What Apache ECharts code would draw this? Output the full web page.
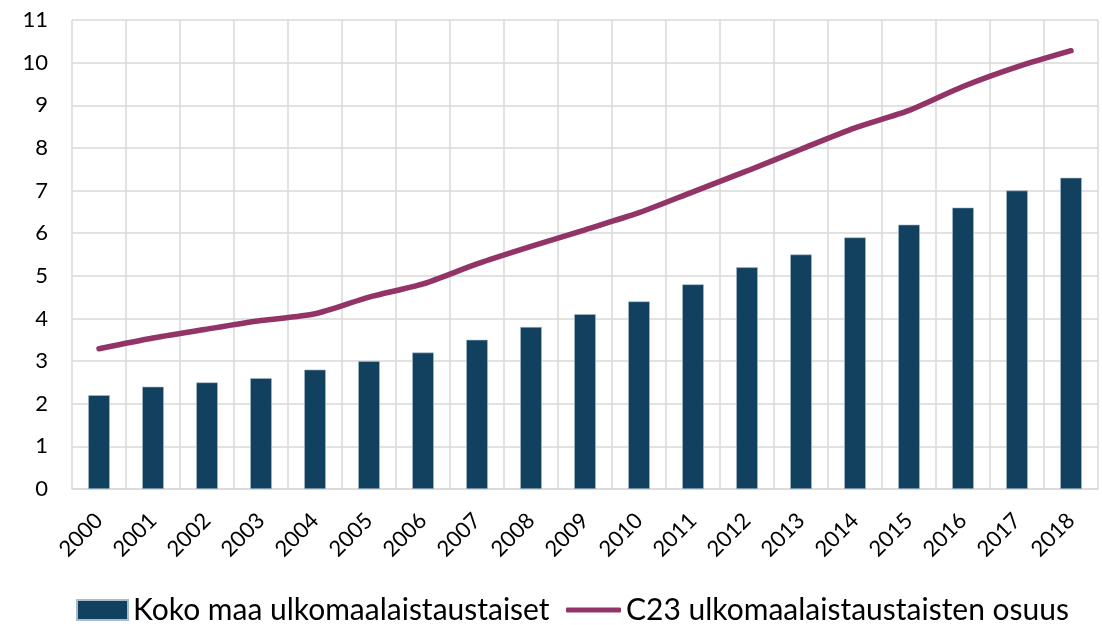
<!DOCTYPE html>
<html>
<head>
<meta charset="utf-8">
<script src="https://cdn.jsdelivr.net/npm/echarts@6/dist/echarts.min.js"></script>
<style>
  html, body { margin: 0; padding: 0; background: #fff; }
  #chart { width: 1102px; height: 625px; }
</style>
</head>
<body>
<div id="chart"></div>
<script>
// vuodet ja arvot
var years = ['2000','2001','2002','2003','2004','2005','2006','2007','2008','2009',
             '2010','2011','2012','2013','2014','2015','2016','2017','2018'];
var kokoMaa = [2.2, 2.4, 2.5, 2.6, 2.8, 3.0, 3.2, 3.5, 3.8, 4.1,
               4.4, 4.8, 5.2, 5.5, 5.9, 6.2, 6.6, 7.0, 7.3];
var c23Osuus = [3.29, 3.54, 3.75, 3.95, 4.11, 4.5, 4.81, 5.28, 5.69, 6.08,
                6.48, 6.97, 7.46, 7.97, 8.47, 8.88, 9.44, 9.9, 10.28];
var seriesNames = ['Koko maa ulkomaalaistaustaiset', 'C23 ulkomaalaistaustaisten osuus'];

var chart = echarts.init(document.getElementById('chart'));

var legendText = { fontSize: 30, color: '#000', fontFamily: 'Lato' };

var option = {
  animation: false,
  textStyle: { fontFamily: 'Lato' },
  grid: { left: 72, right: 4, top: 20, bottom: 136 },
  legend: [
    {
      left: 76,
      top: 595,
      itemWidth: 51,
      itemHeight: 20,
      padding: 0,
      selectedMode: false,
      textStyle: legendText,
      data: [{ name: seriesNames[0], icon: 'rect' }]
    },
    {
      left: 566,
      top: 595,
      itemWidth: 55,
      itemHeight: 5,
      padding: 0,
      selectedMode: false,
      textStyle: legendText,
      data: [{ name: seriesNames[1], icon: 'roundRect' }]
    }
  ],
  xAxis: {
    type: 'category',
    data: years,
    axisLine: { lineStyle: { color: '#d9d9d9', width: 1.5 } },
    axisTick: { show: false },
    splitLine: { show: true, lineStyle: { color: '#d9d9d9', width: 1.5 } },
    axisLabel: {
      interval: 0,
      rotate: 45,
      fontSize: 22,
      color: '#000',
      margin: 28
    }
  },
  yAxis: {
    type: 'value',
    min: 0,
    max: 11,
    interval: 1,
    axisLine: { show: false },
    axisTick: { show: false },
    splitLine: { lineStyle: { color: '#d9d9d9', width: 1.5 } },
    axisLabel: { fontSize: 22, color: '#000', margin: 24 }
  },
  series: [
    {
      name: seriesNames[0],
      type: 'bar',
      data: kokoMaa,
      barWidth: '40%',
      itemStyle: { color: '#12405f', borderColor: '#a9bccb', borderWidth: 0.6 }
    },
    {
      name: seriesNames[1],
      type: 'line',
      data: c23Osuus,
      smooth: 0.25,
      symbol: 'none',
      lineStyle: { color: '#923468', width: 5.5, cap: 'round' },
      itemStyle: { color: '#923468' }
    }
  ]
};

chart.setOption(option);
</script>
</body>
</html>
